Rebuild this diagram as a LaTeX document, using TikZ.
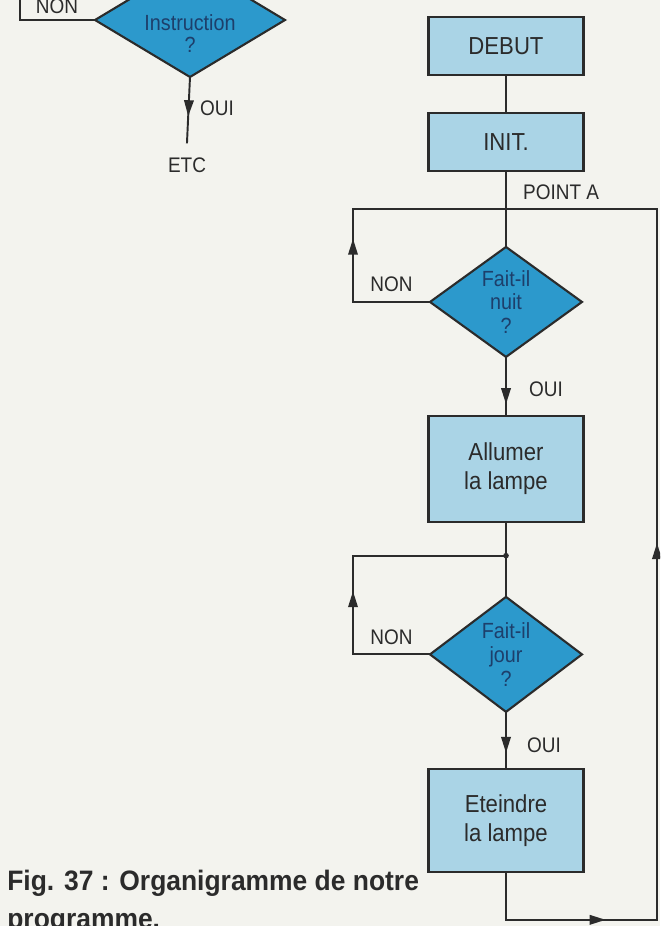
\documentclass[tikz,border=0pt]{standalone}
\usepackage{fontspec}
\setmainfont{Liberation Sans}[FakeStretch=0.9]
\newfontfamily\capfont{Liberation Sans}[FakeStretch=0.94]
\usetikzlibrary{arrows.meta,positioning,calc,shapes.geometric,decorations.markings}
\definecolor{paper}{HTML}{F3F3EE}
\definecolor{boxblue}{HTML}{AAD4E6}
\definecolor{askblue}{HTML}{2C99CC}
\definecolor{inkdark}{HTML}{2B2B2B}
\definecolor{asknavy}{HTML}{1D3F6B}
\tikzset{
  actbox/.style={
    draw=inkdark,
    line width=1.2pt,
    outer sep=0pt,
    fill=boxblue,
    minimum width=3.1cm,
    align=center,
    text=inkdark,
    font=\fontsize{14}{16.5}\selectfont
  },
  askbox/.style={
    diamond,
    draw=inkdark,
    line width=1.2pt,
    outer sep=0pt,
    fill=askblue,
    inner sep=0pt,
    minimum width=3.04cm,
    minimum height=2.2cm
  },
  asktext/.style={align=center,inner sep=0pt,text=asknavy,font=\fontsize{12.5}{13.5}\selectfont},
  flowline/.style={draw=inkdark,line width=1.1pt,line cap=rect},
  midarrow/.style={postaction={decorate},
    decoration={markings,mark=at position #1 with {\arrow{Triangle[length=3.2mm,width=1.9mm]}}}},
  flowlabel/.style={text=inkdark,inner sep=1pt,font=\fontsize{12}{14}\selectfont}
}

\begin{document}
\begin{tikzpicture}[x=0.02cm,y=-0.02cm,node distance=0.76cm]
\clip (0,0) rectangle (660,926);
\fill[paper] (0,0) rectangle (660,926);
% fragment of the previous chart
\node[askbox,minimum width=3.8cm,minimum height=2.28cm] (instr) at (190,20) {};
\node[asktext,font=\fontsize{12.5}{12.5}\selectfont] (instrtxt) at (190,34) {Instruction\\?};
\node[flowlabel] (etc) at (187,165) {ETC};
\coordinate (etcend) at ($(etc.north)+(0,0.26cm)$);
\draw[flowline,midarrow=0.6] (instr.south) -- (etcend);
\draw[flowline] (instr.west) -| (20,-20);
\node[flowlabel] (non0) at (57,6) {NON};
\node[flowlabel,anchor=west] (oui0) at (198,108) {OUI};
% main chart
\node[actbox,minimum height=1.16cm] (debut) at (506,46) {DEBUT};
\node[actbox,minimum height=1.16cm,below=0.76cm of debut] (init) {INIT.};
\node[askbox,below=1.52cm of init,label={[asktext]center:{Fait-il\\nuit\\?}}] (nuit) {};
\node[actbox,minimum height=2.12cm,below=1.18cm of nuit] (allumer) {Allumer\\la lampe};
\node[askbox,minimum height=2.3cm,below=1.5cm of allumer,label={[asktext]center:{Fait-il\\jour\\?}}] (jour) {};
\node[actbox,minimum height=2.06cm,below=1.14cm of jour] (eteindre) {Eteindre\\la lampe};
\coordinate (colL) at (353,0);
\coordinate (colR) at (657,0);
\coordinate (ptA) at ($(init.south)!0.5!(nuit.north)$);
\coordinate (ptB) at ($(allumer.south)!0.45!(jour.north)$);
\coordinate (retour) at ($(eteindre.south)+(0,-0.96cm)$);
\draw[flowline] (debut) -- (init);
\draw[flowline] (init) -- (nuit);
\draw[flowline,midarrow=0.8] (nuit) -- (allumer);
\draw[flowline] (allumer) -- (jour);
\draw[flowline,midarrow=0.72] (jour) -- (eteindre);
% NON loops
\draw[flowline] (nuit.west) -- (nuit.west -| colL);
\draw[flowline,midarrow=0.68] (nuit.west -| colL) -- (ptA -| colL);
\draw[flowline] (ptA -| colL) -- (ptA -| colR);
\draw[flowline] (jour.west) -- (jour.west -| colL);
\draw[flowline,midarrow=0.64] (jour.west -| colL) -- (ptB -| colL);
\draw[flowline] (ptB -| colL) -- (ptB);
\fill[inkdark] (ptB) circle (1.6pt);
% back to point A
\draw[flowline] (eteindre) -- (retour);
\draw[flowline,midarrow=0.66] (retour) -- (retour -| colR);
\draw[flowline,midarrow=0.53] (retour -| colR) -- (ptA -| colR);
% labels
\node[flowlabel,anchor=south west] (pointa) at ([xshift=0.3cm,yshift=0.14cm]ptA) {POINT A};
\node[flowlabel,anchor=south] (non1) at ([yshift=0.16cm]$(nuit.west -| colL)!0.5!(nuit.west)$) {NON};
\node[flowlabel,anchor=south] (non2) at ([yshift=0.16cm]$(jour.west -| colL)!0.5!(jour.west)$) {NON};
\node[flowlabel,anchor=west] (oui1) at ([xshift=0.42cm]$(nuit.south)!0.55!(allumer.north)$) {OUI};
\node[flowlabel,anchor=west] (oui2) at ([xshift=0.38cm]$(jour.south)!0.58!(eteindre.north)$) {OUI};
% caption
\node[anchor=base west,inner sep=0pt,text=inkdark,font=\capfont\bfseries\fontsize{16}{18}\selectfont] (legende) at (7,890) {Fig. 37 : Organigramme de notre};
\node[anchor=base west,inner sep=0pt,text=inkdark,font=\capfont\bfseries\fontsize{16}{18}\selectfont] (legende2) at (7,928) {programme.};
\end{tikzpicture}
\end{document}
